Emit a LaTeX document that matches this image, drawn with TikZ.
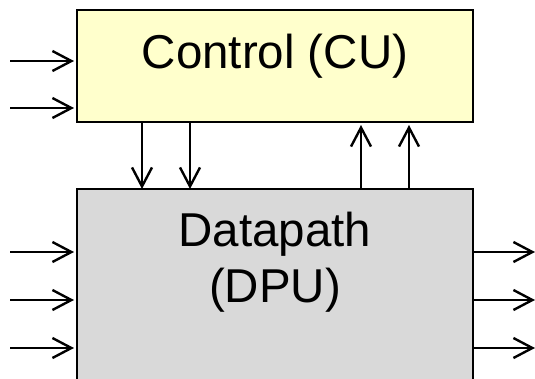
\documentclass[tikz,border=0pt]{standalone}
\usepackage{fontspec}
\setmainfont{Liberation Sans}
\usetikzlibrary{arrows.meta}
\definecolor{cufill}{HTML}{FFFFCC}
\definecolor{dpufill}{HTML}{D9D9D9}
\tikzset{
  unitbox/.style={draw=black, line width=2.2pt, inner sep=0pt, outer sep=0pt},
  sig/.style={line width=2.4pt, -{Straight Barb[length=19pt,width=20pt,line width=2.4pt]}},
  label/.style={inner sep=0pt, font=\fontsize{47.5}{56}\selectfont},
}
\begin{document}
\begin{tikzpicture}[x=1pt, y=-1pt]
  \useasboundingbox (0,0) rectangle (535,378);

  % the two units
  \node[unitbox, fill=cufill, minimum width=396pt, minimum height=112pt] (cu) at (275,66) {};
  \node[unitbox, fill=dpufill, minimum width=396pt, minimum height=222pt] (dpu) at (275,300) {};

  \node[label, anchor=base] (cutext) at (275,68) {Control (CU)};
  \node[label, anchor=base] (dputext1) at (275,246) {Datapath};
  \node[label, anchor=base] (dputext2) at (275,302) {(DPU)};

  % external inputs to the control unit
  \coordinate (ci1) at (10,61);
  \coordinate (ci2) at (10,108);
  \draw[sig, shorten >=3pt] (ci1) -- (ci1 -| cu.west);
  \draw[sig, shorten >=3pt] (ci2) -- (ci2 -| cu.west);

  % control signals down to the datapath
  \coordinate (cs1) at (142,0);
  \coordinate (cs2) at (190,0);
  \draw[sig] (cs1 |- cu.south) -- (cs1 |- dpu.north);
  \draw[sig] (cs2 |- cu.south) -- (cs2 |- dpu.north);

  % status signals up to the control unit
  \coordinate (st1) at (361,0);
  \coordinate (st2) at (409,0);
  \draw[sig, shorten >=3pt] (st1 |- dpu.north) -- (st1 |- cu.south);
  \draw[sig, shorten >=3pt] (st2 |- dpu.north) -- (st2 |- cu.south);

  % datapath inputs
  \coordinate (di1) at (10,252);
  \coordinate (di2) at (10,300);
  \coordinate (di3) at (10,348);
  \draw[sig, shorten >=3pt] (di1) -- (di1 -| dpu.west);
  \draw[sig, shorten >=3pt] (di2) -- (di2 -| dpu.west);
  \draw[sig, shorten >=3pt] (di3) -- (di3 -| dpu.west);

  % datapath outputs
  \coordinate (do1) at (535,252);
  \coordinate (do2) at (535,300);
  \coordinate (do3) at (535,348);
  \draw[sig] (do1 -| dpu.east) -- (do1);
  \draw[sig] (do2 -| dpu.east) -- (do2);
  \draw[sig] (do3 -| dpu.east) -- (do3);
\end{tikzpicture}
\end{document}
